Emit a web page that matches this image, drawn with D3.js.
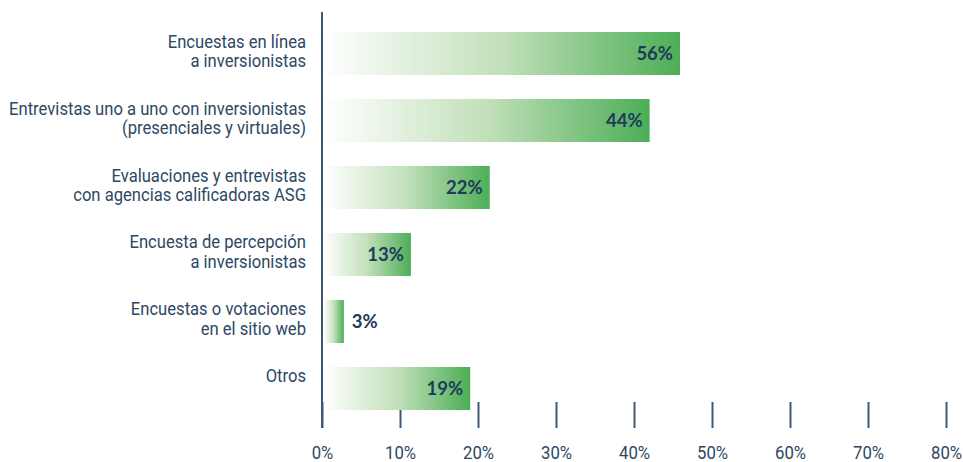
<!DOCTYPE html>
<html lang="es">
<head>
    <meta charset="UTF-8">
    <title>Mecanismos de consulta a inversionistas</title>
    <script src="https://d3js.org/d3.v7.min.js"></script>
    <style>
        body {
            margin: 0;
            background-color: #ffffff;
        }

        svg {
            display: block;
        }

        .cat-label {
            font-family: Roboto, "Liberation Sans", sans-serif;
            font-size: 17.5px;
            fill: #2d4863;
        }

        .tick text {
            font-family: Roboto, "Liberation Sans", sans-serif;
            font-size: 19px;
            fill: #2d4863;
        }

        .value-label {
            font-family: Lato, "Open Sans", sans-serif;
            font-weight: 700;
            font-size: 18.5px;
            fill: #1f3a5c;
        }
    </style>
</head>
<body>
    <svg></svg>

    <script>
        // categorías (cada una en sus líneas de texto)
        const labelLines = [
            ["Encuestas en línea", "a inversionistas"],
            ["Entrevistas uno a uno con inversionistas", "(presenciales y virtuales)"],
            ["Evaluaciones y entrevistas", "con agencias calificadoras ASG"],
            ["Encuesta de percepción", "a inversionistas"],
            ["Encuestas o votaciones", "en el sitio web"],
            ["Otros"]
        ];

        // porcentajes impresos en cada barra
        const shownPct = [56, 44, 22, 13, 3, 19];

        // largo de cada barra leído contra el eje (el original no es proporcional)
        const barLength = [45.9, 42.0, 21.5, 11.4, 2.8, 19.0];

        // marcas del eje x
        const tickValues = [0, 10, 20, 30, 40, 50, 60, 70, 80];

        const W = 963, H = 462;
        const condense = 0.95;   // Roboto algo estrechada
        const tickCondense = 0.88;

        const svg = d3.select("svg")
            .attr("width", W)
            .attr("height", H);

        const x = d3.scaleLinear()
            .domain([0, 80])
            .range([322, 946]);

        const y = d3.scaleBand()
            .domain(d3.range(labelLines.length))
            .range([32, 410])
            .paddingInner(0.358)
            .paddingOuter(0);

        // degradado blanco -> verde
        const grad = svg.append("defs")
            .append("linearGradient")
            .attr("id", "barGrad")
            .attr("x1", "0%").attr("x2", "100%")
            .attr("y1", "0%").attr("y2", "0%");
        grad.append("stop").attr("offset", "0%").attr("stop-color", "#ffffff");
        grad.append("stop").attr("offset", "50%").attr("stop-color", "#c2e0ba");
        grad.append("stop").attr("offset", "100%").attr("stop-color", "#4cae56");

        // eje x (solo marcas y etiquetas)
        const xAxis = svg.append("g")
            .attr("transform", "translate(0,402)")
            .call(d3.axisBottom(x)
                .tickValues(tickValues)
                .tickSize(26)
                .tickPadding(18)
                .tickFormat(d => d + "%"));

        xAxis.select(".domain").remove();
        xAxis.selectAll(".tick line")
            .attr("stroke", "#3e5873")
            .attr("stroke-width", 2);
        xAxis.selectAll(".tick text")
            .attr("transform", "scale(" + tickCondense + ",1)");

        // línea vertical del eje
        svg.append("line")
            .attr("x1", x(0)).attr("x2", x(0))
            .attr("y1", 12).attr("y2", 428)
            .attr("stroke", "#3e5873")
            .attr("stroke-width", 2);

        // barras
        svg.append("g")
            .selectAll("rect")
            .data(barLength)
            .enter().append("rect")
            .attr("x", x(0) + 2)
            .attr("y", (d, i) => y(i))
            .attr("width", d => x(d) - x(0) - 2)
            .attr("height", y.bandwidth())
            .attr("fill", "url(#barGrad)");

        // valores
        svg.append("g")
            .selectAll("text")
            .data(shownPct)
            .enter().append("text")
            .attr("class", "value-label")
            .attr("x", (d, i) => {
                const w = x(barLength[i]) - x(0);
                return w < 40 ? x(barLength[i]) + 8 : x(barLength[i]) - 7;
            })
            .attr("y", (d, i) => y(i) + y.bandwidth() / 2)
            .attr("dy", "0.36em")
            .attr("text-anchor", (d, i) => (x(barLength[i]) - x(0)) < 40 ? "start" : "end")
            .text(d => d + "%");

        // etiquetas de categorías
        const cats = svg.append("g")
            .selectAll("g")
            .data(labelLines)
            .enter().append("g")
            .attr("transform", (d, i) => "translate(306," + (y(i) + y.bandwidth() / 2 - 6) + ") scale(" + condense + ",1)");

        cats.selectAll("text")
            .data(d => d)
            .enter().append("text")
            .attr("class", "cat-label")
            .attr("x", 0)
            .attr("y", (d, j) => j * 19.4)
            .attr("text-anchor", "end")
            .text(d => d);
    </script>
</body>
</html>
